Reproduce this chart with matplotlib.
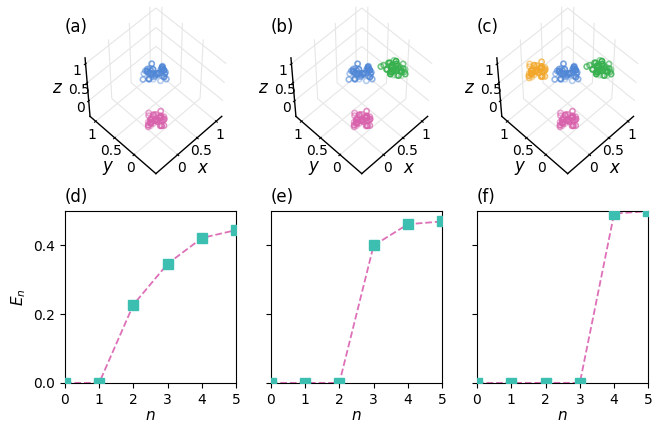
"""Cluster snapshots (3D) and the energy E_n against n."""

import matplotlib

matplotlib.use("Agg")
import matplotlib.pyplot as plt

plt.rcParams["font.family"] = ["DejaVu Sans"]
plt.rcParams["grid.color"] = "#e6e6e6"
plt.rcParams["grid.linewidth"] = 0.8

# hand-typed scatter offsets of one blob, reused by every cluster
jit_x = [0.05, -0.09, 0.14, -0.03, 0.07, -0.12, 0.02, 0.10, -0.06, 0.18, -0.02, 0.04,
         -0.15, 0.08, -0.05, 0.01, 0.11, -0.10, 0.03, -0.04, 0.06, -0.19, 0.12, -0.07,
         0.00, 0.15, -0.01, 0.09, -0.11, 0.05, -0.06, 0.20, -0.14, 0.03, 0.07, -0.03,
         0.01, -0.05, 0.04, -0.01]
jit_y = [-0.04, 0.10, 0.02, -0.14, 0.07, 0.01, -0.09, 0.12, -0.03, 0.05, 0.16, -0.08,
         0.04, -0.11, 0.08, 0.19, -0.02, 0.03, -0.17, 0.08, -0.06, 0.00, 0.11, -0.10,
         0.14, -0.05, 0.06, -0.12, 0.02, 0.10, -0.20, 0.04, -0.01, 0.13, -0.08, 0.03,
         -0.03, 0.05, -0.01, 0.02]
jit_z = [0.08, -0.05, 0.12, 0.02, -0.14, 0.04, 0.16, -0.03, 0.09, -0.10, 0.01, 0.13,
         -0.07, 0.05, -0.17, 0.03, -0.08, 0.10, 0.00, -0.12, 0.14, 0.06, -0.04, 0.19,
         -0.09, 0.02, -0.13, 0.08, 0.04, -0.02, 0.11, -0.15, 0.09, -0.06, 0.01, 0.17,
         -0.01, 0.03, -0.05, 0.01]

# cluster centres and colours
pink_c = (0.0, 0.0, 0.0)
blue_c = (0.12, 0.12, 1.05)
green_c = (0.82, 0.0, 0.65)
orange_c = (0.0, 0.76, 0.65)
PINK, BLUE, GREEN, ORANGE = "#d862ac", "#4f86d6", "#37b04e", "#f2a72b"

panel_clusters = [
    [(pink_c, PINK), (blue_c, BLUE)],
    [(pink_c, PINK), (blue_c, BLUE), (green_c, GREEN)],
    [(pink_c, PINK), (blue_c, BLUE), (green_c, GREEN), (orange_c, ORANGE)],
]

n_vals = [0, 1, 2, 3, 4, 5]
energy_d = [0.0, 0.0, 0.228, 0.347, 0.422, 0.445]
energy_e = [0.0, 0.0, 0.0, 0.400, 0.462, 0.470]
energy_f = [0.0, 0.0, 0.0, 0.0, 0.493, 0.500]

TEAL = "#3cbfb1"
LINE_PINK = "#de70b8"


def draw_clusters(ax, clusters):
    for k, ((cx, cy, cz), color) in enumerate(clusters):
        # rotate the offset columns so the blobs do not all look identical
        cols = [jit_x, jit_y, jit_z]
        ox, oy, oz = cols[k % 3], cols[(k + 1) % 3], cols[(k + 2) % 3]
        ax.scatter([cx + v for v in ox], [cy + v for v in oy], [cz + v for v in oz],
                   s=14, facecolors="none", edgecolors=color, linewidths=1.2)
    ax.set_xlim(-0.55, 1.15)
    ax.set_ylim(-0.55, 1.15)
    ax.set_zlim(-0.45, 1.15)
    ax.view_init(elev=56, azim=-135)
    ax.set_box_aspect((4, 4, 4.33), zoom=0.757)
    for axis in (ax.xaxis, ax.yaxis, ax.zaxis):
        axis.pane.fill = False
        axis.pane.set_edgecolor("white")
        axis.line.set_color("black")
        axis.line.set_linewidth(1.0)
        axis.set_ticks([0, 0.5, 1])
        axis.set_ticklabels(["0", "0.5", "1"])
    ax.tick_params(labelsize=10, pad=-3)
    ax.set_xlabel("$x$", fontsize=12, labelpad=-3)
    ax.set_ylabel("$y$", fontsize=12, labelpad=-3)
    ax.set_zlabel("$z$", fontsize=12, labelpad=-3)


fig = plt.figure(figsize=(6.62, 4.24), dpi=100)

top_centres = [0.231, 0.542, 0.853]
for i, clusters in enumerate(panel_clusters):
    ax3 = fig.add_axes([top_centres[i] - 0.19, 0.525, 0.38, 0.52], projection="3d")
    draw_clusters(ax3, clusters)

bottom_lefts = [0.098, 0.409, 0.7205]
energies = [energy_d, energy_e, energy_f]
for i, en in enumerate(energies):
    ax = fig.add_axes([bottom_lefts[i], 0.097, 0.259, 0.405])
    ax.plot(n_vals, en, "--", color=LINE_PINK, lw=1.3, zorder=2)
    ax.plot(n_vals, en, "s", color=TEAL, ms=7.7, zorder=3)
    ax.set_xlim(0, 5)
    ax.set_ylim(0, 0.5)
    ax.set_xticks(n_vals)
    ax.set_yticks([0, 0.2, 0.4])
    ax.tick_params(labelsize=10)
    ax.set_xlabel("$n$", fontsize=11, labelpad=1)
    if i == 0:
        ax.set_ylabel("$E_n$", fontsize=11)
    else:
        ax.set_yticklabels([])

for lbl, x, y in [("(a)", 0.098, 0.915), ("(b)", 0.409, 0.915), ("(c)", 0.7205, 0.915),
                  ("(d)", 0.098, 0.515), ("(e)", 0.409, 0.515), ("(f)", 0.7205, 0.515)]:
    fig.text(x, y, lbl, fontsize=12, ha="left", va="bottom")

fig.savefig("out.png", dpi=100)
